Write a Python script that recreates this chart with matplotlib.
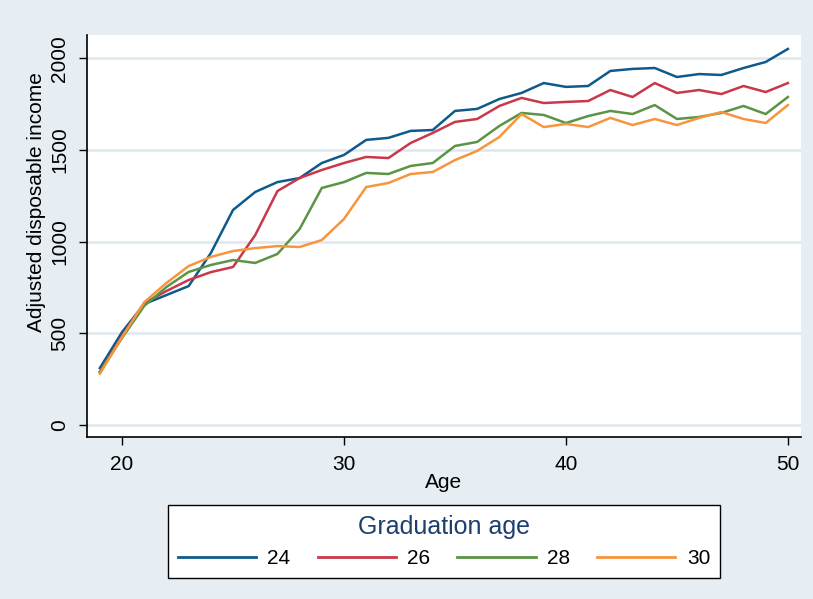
import matplotlib
matplotlib.use('Agg')
import matplotlib.pyplot as plt

plt.rcParams['font.family'] = ['Liberation Sans', 'DejaVu Sans']

# --- data ---
ages = list(range(19, 51))
grad_labels = ['24', '26', '28', '30']

inc_24 = [311, 507, 660, 709, 758, 938, 1173, 1271, 1325, 1347, 1429, 1473, 1555, 1566,
          1604, 1609, 1713, 1724, 1778, 1811, 1865, 1844, 1849, 1931, 1942, 1947, 1898,
          1914, 1909, 1947, 1980, 2051]
inc_26 = [290, 485, 665, 731, 791, 834, 862, 1036, 1276, 1347, 1391, 1429, 1462, 1456,
          1538, 1593, 1653, 1669, 1740, 1784, 1756, 1762, 1767, 1827, 1789, 1865, 1811,
          1827, 1805, 1849, 1816, 1865]
inc_28 = [290, 475, 650, 753, 835, 873, 900, 884, 933, 1069, 1293, 1325, 1375, 1369,
          1413, 1429, 1522, 1544, 1631, 1702, 1691, 1647, 1685, 1713, 1696, 1745, 1669,
          1680, 1702, 1740, 1696, 1789]
inc_30 = [280, 480, 670, 775, 867, 917, 949, 965, 976, 971, 1009, 1124, 1298, 1320,
          1369, 1380, 1445, 1495, 1571, 1696, 1625, 1642, 1625, 1675, 1636, 1669, 1636,
          1675, 1707, 1669, 1647, 1745]

series = [inc_24, inc_26, inc_28, inc_30]
colors = ['#0f5a8c', '#c8384a', '#5a9444', '#f7953d']

y_ticks = [0, 500, 1000, 1500, 2000]
x_ticks = [20, 30, 40, 50]

bg = '#e6eef3'
grid_col = '#dde8ee'

fig = plt.figure(figsize=(8.13, 5.99), dpi=100, facecolor=bg)
W, H = 813, 599
ax = fig.add_axes([87 / W, 1 - 437 / H, (801 - 87) / W, (437 - 35) / H])
ax.set_facecolor('white')

for vals, c, lab in zip(series, colors, grad_labels):
    ax.plot(ages, vals, color=c, lw=1.8, label=lab, solid_joinstyle='round')

ax.set_xlim(18.42, 50.59)
ax.set_ylim(-65, 2127)
ax.set_xticks(x_ticks)
ax.set_yticks(y_ticks)
ax.set_yticklabels([str(t) for t in y_ticks], rotation=90, va='center')
ax.tick_params(axis='both', labelsize=15, length=6, width=1, color='black', pad=7)
ax.grid(axis='y', color=grid_col, lw=1.8)
ax.set_axisbelow(True)

for s in ['top', 'right']:
    ax.spines[s].set_visible(False)
for s in ['left', 'bottom']:
    ax.spines[s].set_linewidth(1.2)

ax.set_xlabel('Age', fontsize=15)
ax.xaxis.set_label_coords(0.5, (437 - 482) / 402, transform=ax.transAxes)
ax.set_ylabel('Adjusted disposable income', fontsize=15)
ax.yaxis.set_label_coords((37 - 87) / 714, (437 - 202.5) / 402, transform=ax.transAxes)
ax.yaxis.label.set_va('center')
ax.xaxis.label.set_va('center')

leg = fig.legend(loc='center', bbox_to_anchor=(444 / W, 1 - 541.5 / H), ncol=4,
                 fontsize=15, title='Graduation age', title_fontsize=18,
                 handlelength=3.75, handletextpad=0.55, columnspacing=1.3,
                 frameon=True, fancybox=False, borderpad=0.45, borderaxespad=0)
leg.get_title().set_color('#1d3f6e')
leg.get_frame().set_edgecolor('black')
leg.get_frame().set_linewidth(1.0)
leg.get_frame().set_facecolor('white')
leg.get_frame().set_alpha(1)
for line in leg.get_lines():
    line.set_linewidth(2.0)

fig.savefig('out.png', dpi=100, facecolor=bg)
